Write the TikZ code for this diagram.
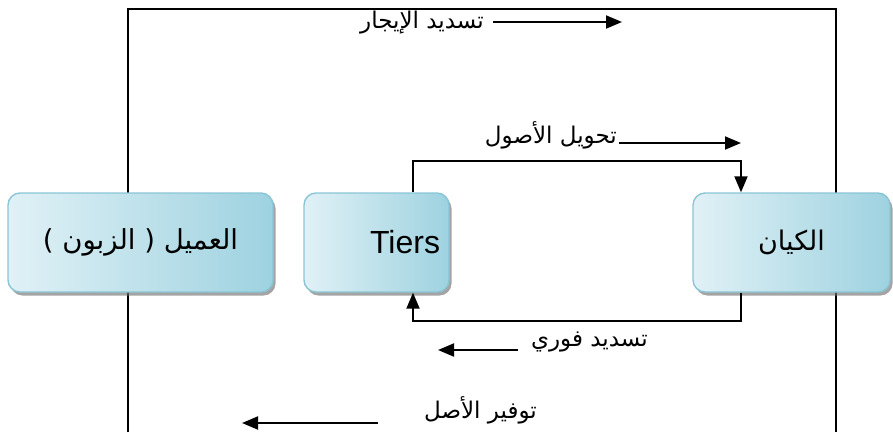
\documentclass[tikz,border=0pt]{standalone}
\usepackage{fontspec}
\setmainfont{Liberation Sans}
\newfontfamily\arabicfont[Script=Arabic]{DejaVu Sans}
\TeXXeTstate=1
\usetikzlibrary{arrows.meta,shadows}
\definecolor{boxlight}{HTML}{E0F1F6}
\definecolor{boxdark}{HTML}{9ED2E0}
\definecolor{boxedge}{HTML}{8AC5D5}
\begin{document}
\begin{tikzpicture}[x=1pt,y=-1pt,
  box/.style={rectangle, rounded corners=12pt, draw=boxedge, line width=1.4pt,
    left color=boxlight, right color=boxdark,
    drop shadow={shadow xshift=2.5pt, shadow yshift=-3.5pt, fill=black!55, opacity=0.65},
    minimum height=99pt, inner sep=0pt},
  line/.style={line width=1.9pt, black},
  arr/.style={line, -{Triangle[length=16pt,width=13pt]}},
  lbl/.style={font=\arabicfont\fontsize{23}{27}\selectfont, inner sep=0pt, anchor=east}]
\useasboundingbox (0,0) rectangle (893,432);
% outer frame
\coordinate (fbl) at (128,432);
\coordinate (ftl) at (128,9);
\coordinate (ftr) at (836,9);
\coordinate (fbr) at (836,432);
\draw[line] (fbl) -- (ftl) -- (ftr) -- (fbr);
% boxes
\node[box, minimum width=265pt] (client) at (140.5,242.5)
  {\arabicfont\fontsize{27.5}{32}\selectfont\beginR العميل ( الزبون )\endR};
\node[box, minimum width=145pt, text width=127pt, align=right] (tiers) at (376.5,242.5)
  {\fontsize{32}{36}\selectfont Tiers};
\node[box, minimum width=197pt] (kiyan) at (791.5,242.5)
  {\arabicfont\fontsize{27}{32}\selectfont\beginR الكيان\endR};
% connectors
\draw[arr] ([xshift=36.5pt]tiers.north) -- ++(0,-31) -| ([xshift=-50.5pt]kiyan.north);
\draw[arr] ([xshift=-50.5pt]kiyan.south) -- ++(0,28) -| ([xshift=36.5pt]tiers.south);
% labels
\node[lbl] (l1) at (484,23) {\beginR تسديد الإيجار\endR};
\coordinate (a1s) at (493,22);
\coordinate (a1e) at (622,22);
\draw[arr] (a1s) -- (a1e);
\node[lbl] (l2) at (617,135) {\beginR تحويل الأصول\endR};
\coordinate (a2s) at (619,143);
\coordinate (a2e) at (741,143);
\draw[arr] (a2s) -- (a2e);
\node[lbl] (l3) at (648,342) {\beginR تسديد فوري\endR};
\coordinate (a3s) at (518,350);
\coordinate (a3e) at (438,350);
\draw[arr] (a3s) -- (a3e);
\node[lbl] (l4) at (537,410) {\beginR توفير الأصل\endR};
\coordinate (a4s) at (378,423);
\coordinate (a4e) at (242,423);
\draw[arr] (a4s) -- (a4e);
\end{tikzpicture}
\end{document}
